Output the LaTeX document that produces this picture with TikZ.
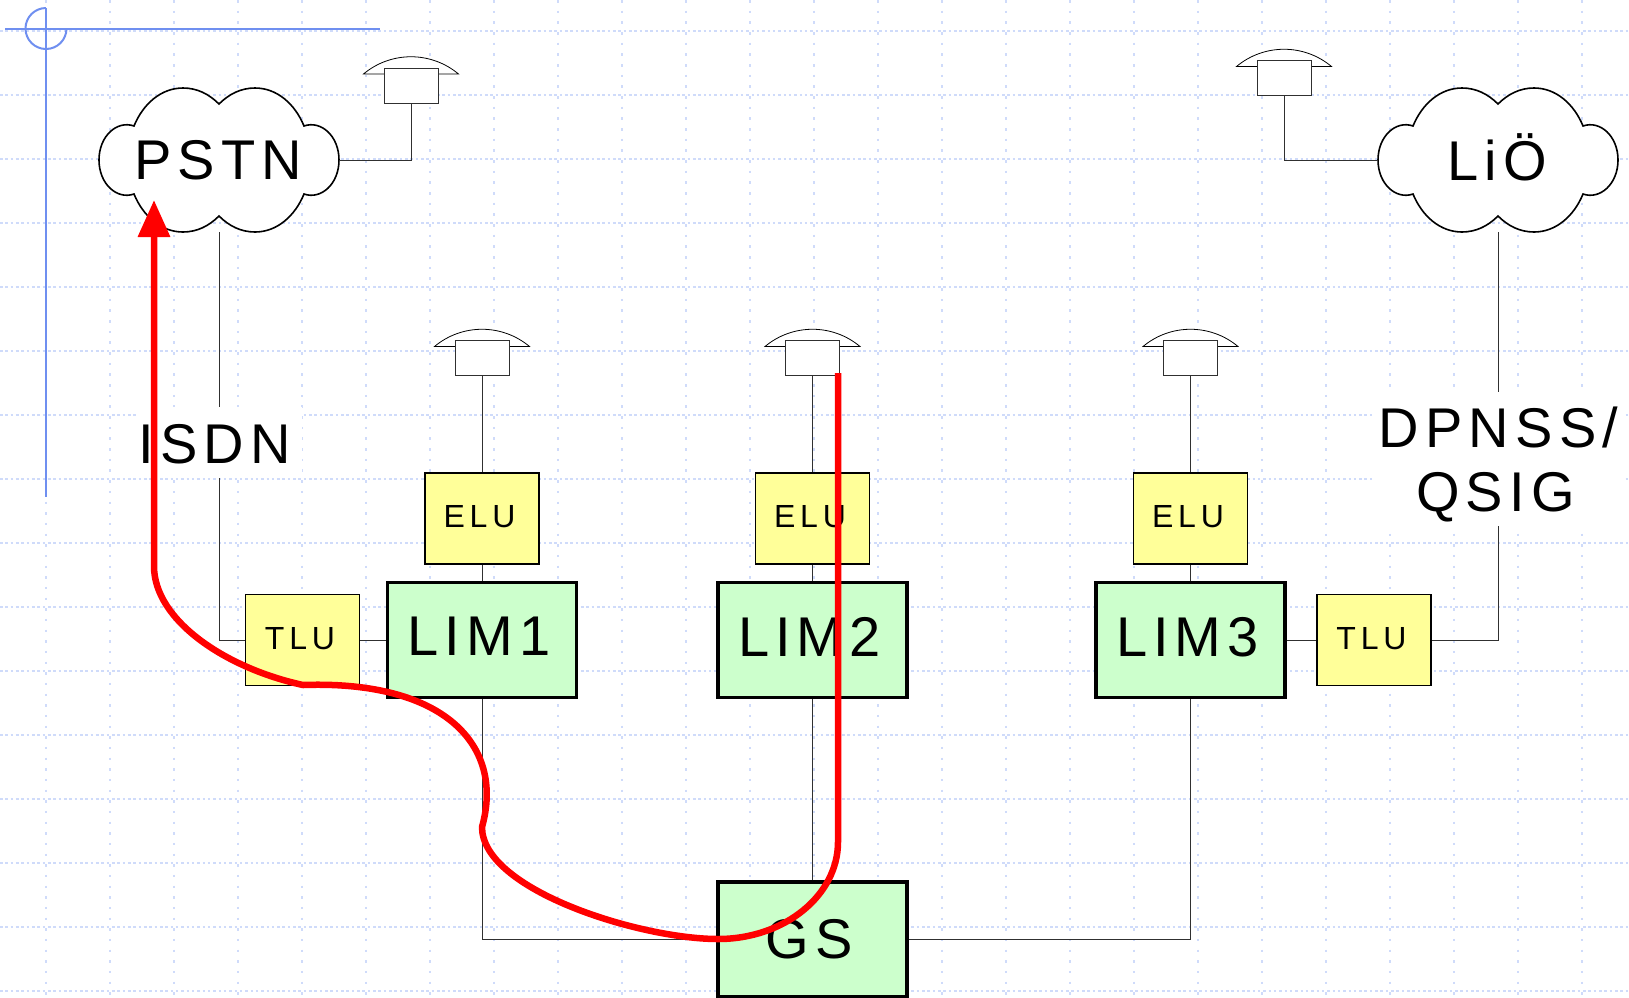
\documentclass[tikz,border=0pt]{standalone}
\usepackage{fontspec}
\usetikzlibrary{arrows.meta}
\newfontfamily\boxfont[LetterSpace=11]{Liberation Sans}
\newfontfamily\unitfont[LetterSpace=15]{Liberation Sans}
\newcommand{\bigfont}{\boxfont\fontsize{56}{64}\selectfont}
\newcommand{\smallfont}{\unitfont\fontsize{32}{36}\selectfont}
\newcommand{\cloudpath}{(0,-56) .. controls (10,-66) and (22,-72) .. (36,-72)
    .. controls (58,-72) and (76,-56) .. (85,-34)
    .. controls (102,-40) and (120,-24) .. (120,0)
    .. controls (120,24) and (102,40) .. (85,34)
    .. controls (76,56) and (58,72) .. (36,72)
    .. controls (22,72) and (10,66) .. (0,56)
    .. controls (-10,66) and (-22,72) .. (-36,72)
    .. controls (-58,72) and (-76,56) .. (-85,34)
    .. controls (-102,40) and (-120,24) .. (-120,0)
    .. controls (-120,-24) and (-102,-40) .. (-85,-34)
    .. controls (-76,-56) and (-58,-72) .. (-36,-72)
    .. controls (-22,-72) and (-10,-66) .. (0,-56) -- cycle}
\newcommand{\handsetpath}{(-47.5,-11.5) .. controls (-20,-34.5) and (20,-34.5) .. (47.5,-11.5) -- cycle}
\definecolor{gridblue}{HTML}{CFDBFA}
\definecolor{guideblue}{HTML}{6F8FF0}
\definecolor{wiregray}{HTML}{303030}
\definecolor{limgreen}{HTML}{CCFFCC}
\definecolor{luyellow}{HTML}{FFFF99}
\tikzset{
    gridh/.style={gridblue,line width=1.8pt,dash pattern=on 2.6pt off 2.73pt},
    gridv/.style={gridblue,line width=2.5pt,dash pattern=on 2.5pt off 8.17pt},
    guide/.style={guideblue,line width=2pt},
    cloudline/.style={draw=black,fill=white,line width=1.6pt},
    cloudbox/.style={minimum width=240pt,minimum height=144pt,inner sep=0pt,font=\bigfont,execute at end node={\hspace{2pt}}},
    handset/.style={draw=black,fill=white,line width=0.8pt},
    phonebox/.style={draw=wiregray,fill=white,line width=1pt,minimum width=54pt,minimum height=35pt,inner sep=0pt},
    limbox/.style={draw=black,fill=limgreen,line width=3.3pt,minimum width=189pt,minimum height=115pt,inner sep=0pt,font=\bigfont,text depth=7pt,execute at end node={\hspace{6pt}}},
    lubox/.style={draw=black,fill=luyellow,line width=1.7pt,minimum width=114pt,minimum height=91pt,inner sep=0pt,font=\smallfont,text depth=4pt,execute at end node={\hspace{5pt}}},
    wireline/.style={wiregray,line width=1pt},
    linklabel/.style={fill=white,inner sep=0pt,font=\bigfont,align=center},
    trackline/.style={red,line width=6.5pt,line join=round}
}
\begin{document}
\begin{tikzpicture}[x=1pt,y=-1pt]
    \useasboundingbox (0,0) rectangle (1629,997);

    % dotted page grid
    \foreach \gy in {31,95,...,991}
        \draw[gridh] (0,\gy) -- (1629,\gy);
    \foreach \gx in {46,110,...,1582}
        \draw[gridv] (\gx,0) -- (\gx,997);

    % guides in the corner
    \draw[guide] (5,29) -- (380,29);
    \draw[guide] (46,8) -- (46,497);
    \draw[guide] (46,8) arc[start angle=-90,end angle=-360,radius=20.5];

    % clouds
    \draw[cloudline,shift={(219,160)}] \cloudpath;
    \draw[cloudline,shift={(1498,160)}] \cloudpath;
    \node[cloudbox] (pstn) at (219,160) {PSTN};
    \node[cloudbox,text depth=6pt] (lio) at (1498,160) {LiÖ};

    % phones
    \draw[handset,shift={(411,85.5)}] \handsetpath;
    \draw[handset,shift={(1284,78)}] \handsetpath;
    \draw[handset,shift={(482,358)}] \handsetpath;
    \draw[handset,shift={(812.5,358)}] \handsetpath;
    \draw[handset,shift={(1190.5,358)}] \handsetpath;
    \node[phonebox] (phonepstn) at (411,85.5) {};
    \node[phonebox] (phonelio) at (1284,78) {};
    \node[phonebox] (phonea) at (482,358) {};
    \node[phonebox] (phoneb) at (812.5,358) {};
    \node[phonebox] (phonec) at (1190.5,358) {};

    % boxes
    \node[lubox] (elua) at (482,518.5) {ELU};
    \node[lubox] (elub) at (812.5,518.5) {ELU};
    \node[lubox] (eluc) at (1190.5,518.5) {ELU};
    \node[limbox] (lima) at (482,640) {LIM1};
    \node[limbox] (limb) at (812.5,640) {LIM2};
    \node[limbox] (limc) at (1190.5,640) {LIM3};
    \node[lubox] (tlua) at (302.5,640) {TLU};
    \node[lubox] (tlub) at (1374,640) {TLU};
    \node[limbox,text depth=2pt] (gs) at (812.5,939.5) {GS};

    % connectors
    \draw[wireline] (pstn.east) -| (phonepstn.south);
    \draw[wireline] (lio.west) -| (phonelio.south);
    \draw[wireline] (pstn.south) |- (tlua.west);
    \draw[wireline] (lio.south) |- (tlub.east);
    \draw[wireline] (tlua.east) -- (lima.west);
    \draw[wireline] (limc.east) -- (tlub.west);
    \draw[wireline] (phonea.south) -- (elua.north);
    \draw[wireline] (phoneb.south) -- (elub.north);
    \draw[wireline] (phonec.south) -- (eluc.north);
    \draw[wireline] (elua.south) -- (lima.north);
    \draw[wireline] (elub.south) -- (limb.north);
    \draw[wireline] (eluc.south) -- (limc.north);
    \draw[wireline] (lima.south) |- (gs.west);
    \draw[wireline] (limb.south) -- (gs.north);
    \draw[wireline] (limc.south) |- (gs.east);

    % labels on the trunks
    \node[linklabel,minimum width=166pt,minimum height=71pt] (isdn) at (219,442.5) {\rule{0pt}{42pt}ISDN\hspace*{9pt}};
    \node[linklabel,minimum width=253pt,minimum height=134pt] (qsig) at (1498.5,459) {\rule{0pt}{51pt}DPNSS/\\QSIG\hspace*{6pt}};

    % call path
    \coordinate (trackstart) at (838,373);
    \coordinate (tracktip) at (154,200);
    \draw[trackline,-{Triangle[length=37pt,width=31pt]}] (trackstart) -- (838,842)
        .. controls (838,895) and (785,939) .. (718,939)
        .. controls (640,939) and (482,890) .. (482,827)
        .. controls (505,745) and (444,680) .. (303,685)
        .. controls (225,668) and (154,620) .. (154,566)
        -- (tracktip);
\end{tikzpicture}
\end{document}
